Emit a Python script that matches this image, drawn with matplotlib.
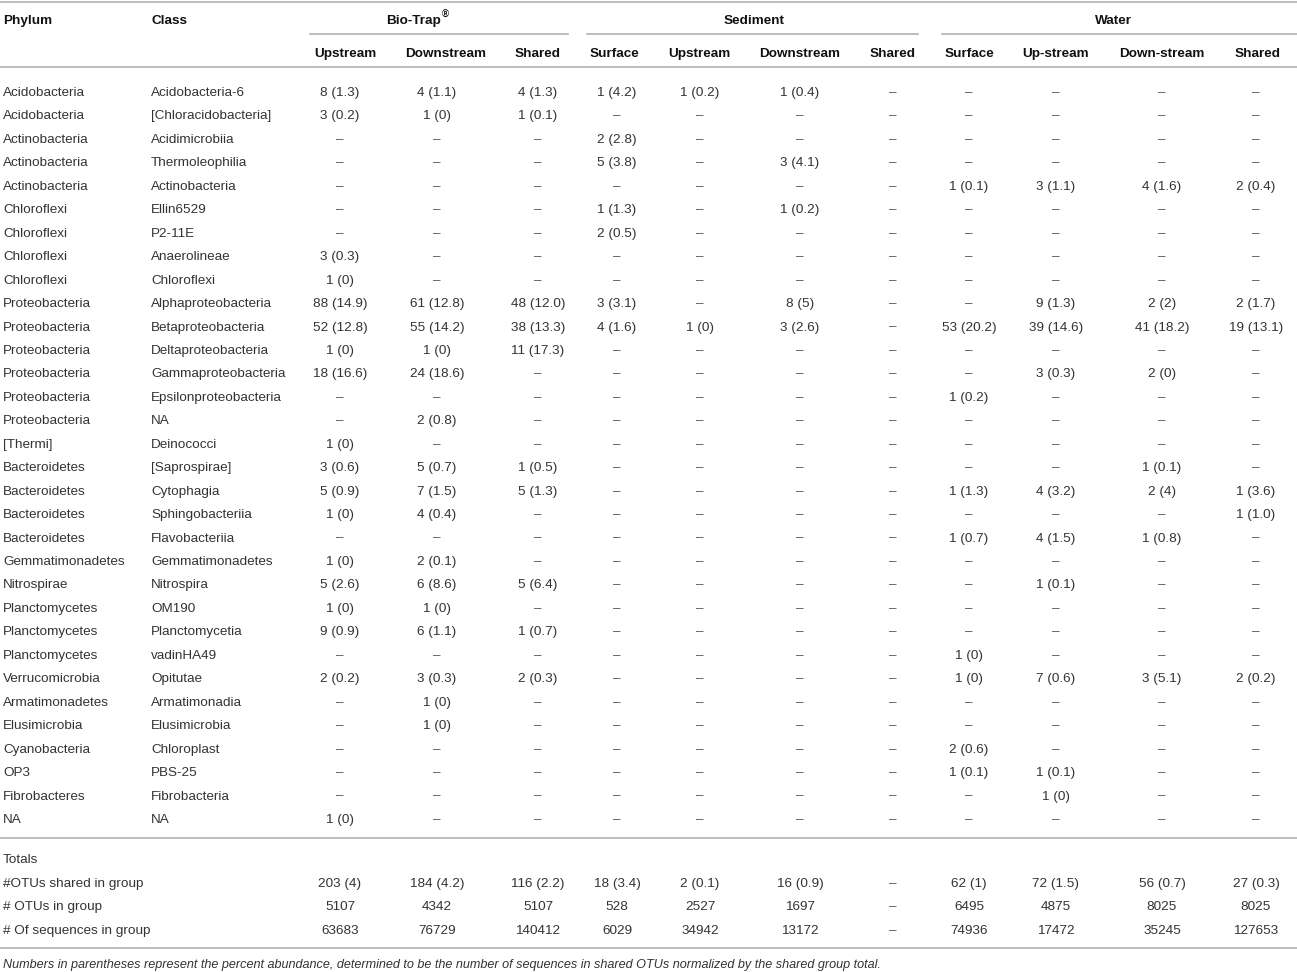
import matplotlib
matplotlib.use("Agg")
import matplotlib.pyplot as plt

D = None  # dash cell

phylum = ['Acidobacteria', 'Acidobacteria', 'Actinobacteria', 'Actinobacteria', 'Actinobacteria',
          'Chloroflexi', 'Chloroflexi', 'Chloroflexi', 'Chloroflexi',
          'Proteobacteria', 'Proteobacteria', 'Proteobacteria', 'Proteobacteria', 'Proteobacteria', 'Proteobacteria',
          '[Thermi]', 'Bacteroidetes', 'Bacteroidetes', 'Bacteroidetes', 'Bacteroidetes',
          'Gemmatimonadetes', 'Nitrospirae', 'Planctomycetes', 'Planctomycetes', 'Planctomycetes',
          'Verrucomicrobia', 'Armatimonadetes', 'Elusimicrobia', 'Cyanobacteria', 'OP3', 'Fibrobacteres', 'NA']
klass = ['Acidobacteria-6', '[Chloracidobacteria]', 'Acidimicrobiia', 'Thermoleophilia', 'Actinobacteria',
         'Ellin6529', 'P2-11E', 'Anaerolineae', 'Chloroflexi',
         'Alphaproteobacteria', 'Betaproteobacteria', 'Deltaproteobacteria', 'Gammaproteobacteria',
         'Epsilonproteobacteria', 'NA',
         'Deinococci', '[Saprospirae]', 'Cytophagia', 'Sphingobacteriia', 'Flavobacteriia',
         'Gemmatimonadetes', 'Nitrospira', 'OM190', 'Planctomycetia', 'vadinHA49',
         'Opitutae', 'Armatimonadia', 'Elusimicrobia', 'Chloroplast', 'PBS-25', 'Fibrobacteria', 'NA']

# Bio-Trap
bt_up = ['8 (1.3)', '3 (0.2)', D, D, D, D, D, '3 (0.3)', '1 (0)', '88 (14.9)', '52 (12.8)', '1 (0)', '18 (16.6)',
         D, D, '1 (0)', '3 (0.6)', '5 (0.9)', '1 (0)', D, '1 (0)', '5 (2.6)', '1 (0)', '9 (0.9)', D, '2 (0.2)',
         D, D, D, D, D, '1 (0)']
bt_down = ['4 (1.1)', '1 (0)', D, D, D, D, D, D, D, '61 (12.8)', '55 (14.2)', '1 (0)', '24 (18.6)',
           D, '2 (0.8)', D, '5 (0.7)', '7 (1.5)', '4 (0.4)', D, '2 (0.1)', '6 (8.6)', '1 (0)', '6 (1.1)', D,
           '3 (0.3)', '1 (0)', '1 (0)', D, D, D, D]
bt_shared = ['4 (1.3)', '1 (0.1)', D, D, D, D, D, D, D, '48 (12.0)', '38 (13.3)', '11 (17.3)', D,
             D, D, D, '1 (0.5)', '5 (1.3)', D, D, D, '5 (6.4)', D, '1 (0.7)', D, '2 (0.3)',
             D, D, D, D, D, D]
# Sediment
sed_surf = ['1 (4.2)', D, '2 (2.8)', '5 (3.8)', D, '1 (1.3)', '2 (0.5)', D, D, '3 (3.1)', '4 (1.6)', D, D,
            D, D, D, D, D, D, D, D, D, D, D, D, D, D, D, D, D, D, D]
sed_up = ['1 (0.2)', D, D, D, D, D, D, D, D, D, '1 (0)', D, D,
          D, D, D, D, D, D, D, D, D, D, D, D, D, D, D, D, D, D, D]
sed_down = ['1 (0.4)', D, D, '3 (4.1)', D, '1 (0.2)', D, D, D, '8 (5)', '3 (2.6)', D, D,
            D, D, D, D, D, D, D, D, D, D, D, D, D, D, D, D, D, D, D]
sed_shared = [D] * 32
# Water
w_surf = [D, D, D, D, '1 (0.1)', D, D, D, D, D, '53 (20.2)', D, D,
          '1 (0.2)', D, D, D, '1 (1.3)', D, '1 (0.7)', D, D, D, D, '1 (0)', '1 (0)',
          D, D, '2 (0.6)', '1 (0.1)', D, D]
w_up = [D, D, D, D, '3 (1.1)', D, D, D, D, '9 (1.3)', '39 (14.6)', D, '3 (0.3)',
        D, D, D, D, '4 (3.2)', D, '4 (1.5)', D, '1 (0.1)', D, D, D, '7 (0.6)',
        D, D, D, '1 (0.1)', '1 (0)', D]
w_down = [D, D, D, D, '4 (1.6)', D, D, D, D, '2 (2)', '41 (18.2)', D, '2 (0)',
          D, D, D, '1 (0.1)', '2 (4)', D, '1 (0.8)', D, D, D, D, D, '3 (5.1)',
          D, D, D, D, D, D]
w_shared = [D, D, D, D, '2 (0.4)', D, D, D, D, '2 (1.7)', '19 (13.1)', D, D,
            D, D, D, D, '1 (3.6)', '1 (1.0)', D, D, D, D, D, D, '2 (0.2)',
            D, D, D, D, D, D]

total_labels = ['#OTUs shared in group', '# OTUs in group', '# Of sequences in group']
tot_shared = ['203 (4)', '184 (4.2)', '116 (2.2)', '18 (3.4)', '2 (0.1)', '16 (0.9)', D,
              '62 (1)', '72 (1.5)', '56 (0.7)', '27 (0.3)']
tot_otus = ['5107', '4342', '5107', '528', '2527', '1697', D, '6495', '4875', '8025', '8025']
tot_seqs = ['63683', '76729', '140412', '6029', '34942', '13172', D, '74936', '17472', '35245', '127653']

groups = ['Bio-Trap', 'Sediment', 'Water']
subheads = ['Upstream', 'Downstream', 'Shared', 'Surface', 'Upstream', 'Downstream', 'Shared',
            'Surface', 'Up-stream', 'Down-stream', 'Shared']
footnote = ('Numbers in parentheses represent the percent abundance, determined to be the number of '
            'sequences in shared OTUs normalized by the shared group total.')

columns = [bt_up, bt_down, bt_shared, sed_surf, sed_up, sed_down, sed_shared,
           w_surf, w_up, w_down, w_shared]

# layout (pixels)
W, H = 1297, 972
head_x = [345, 446, 538, 614, 699, 800, 893, 969, 1056, 1162, 1258]
data_x = [340, 437, 538, 617, 700, 800, 893, 969, 1056, 1162, 1256]
group_x = [419, 754, 1113]
group_span = [(310, 568), (587, 918), (942, 1297)]
off = 2.0  # text vertical nudge
y0, dy = 91, 23.45

plt.rcParams['font.family'] = ['Liberation Sans', 'DejaVu Sans']
fs = 9.7
txt = '#333333'
dash_c = '#555555'
line_c = '#b0b0b0'

fig = plt.figure(figsize=(W / 100, H / 100), dpi=100)
ax = fig.add_axes([0, 0, 1, 1])
ax.set_xlim(0, W)
ax.set_ylim(H, 0)
ax.axis('off')

# rules
ax.plot([0, W], [2, 2], color=line_c, lw=1.2)
for a, b in group_span:
    ax.plot([a, b], [34, 34], color=line_c, lw=1.2)
ax.plot([0, W], [67, 67], color=line_c, lw=1.2)
ax.plot([0, W], [838, 838], color=line_c, lw=1.2)
ax.plot([0, W], [948, 948], color=line_c, lw=1.2)

# header
hc = '#111111'
ax.text(3, 19 + off, 'Phylum', fontsize=fs, fontweight='bold', va='center', ha='left', color=hc)
ax.text(151, 19 + off, 'Class', fontsize=fs, fontweight='bold', va='center', ha='left', color=hc)
for i, g in enumerate(groups):
    if g == 'Bio-Trap':
        ax.text(group_x[i] + 22, 19 + off, g, fontsize=fs, fontweight='bold', va='center', ha='right', color=hc)
        ax.text(group_x[i] + 22.5, 13 + off, '®', fontsize=fs * 0.72, fontweight='bold', va='center',
                ha='left', color=hc)
    else:
        ax.text(group_x[i], 19 + off, g, fontsize=fs, fontweight='bold', va='center', ha='center', color=hc)
for x, s in zip(head_x, subheads):
    ax.text(x, 52 + off, s, fontsize=fs, fontweight='bold', va='center', ha='center', color=hc)


def cell(x, y, v):
    if v is None:
        ax.text(x, y, '–', fontsize=fs, va='center', ha='center', color=dash_c)
    else:
        ax.text(x, y, v, fontsize=fs, va='center', ha='center', color=txt)


# body
for r in range(len(phylum)):
    y = y0 + r * dy + off
    ax.text(3, y, phylum[r], fontsize=fs, va='center', ha='left', color=txt)
    ax.text(151, y, klass[r], fontsize=fs, va='center', ha='left', color=txt)
    for c, col in enumerate(columns):
        cell(data_x[c], y, col[r])

# totals
ax.text(3, 858 + off, 'Totals', fontsize=fs, va='center', ha='left', color=txt)
for k, (lab, vals) in enumerate(zip(total_labels, [tot_shared, tot_otus, tot_seqs])):
    y = 882 + k * 23.3 + off
    ax.text(3, y, lab, fontsize=fs, va='center', ha='left', color=txt)
    for c, v in enumerate(vals):
        cell(data_x[c], y, v)

ax.text(3, 963 + off, footnote, fontsize=fs * 0.94, style='italic', va='center', ha='left', color=txt)

fig.savefig('out.png', dpi=100)
